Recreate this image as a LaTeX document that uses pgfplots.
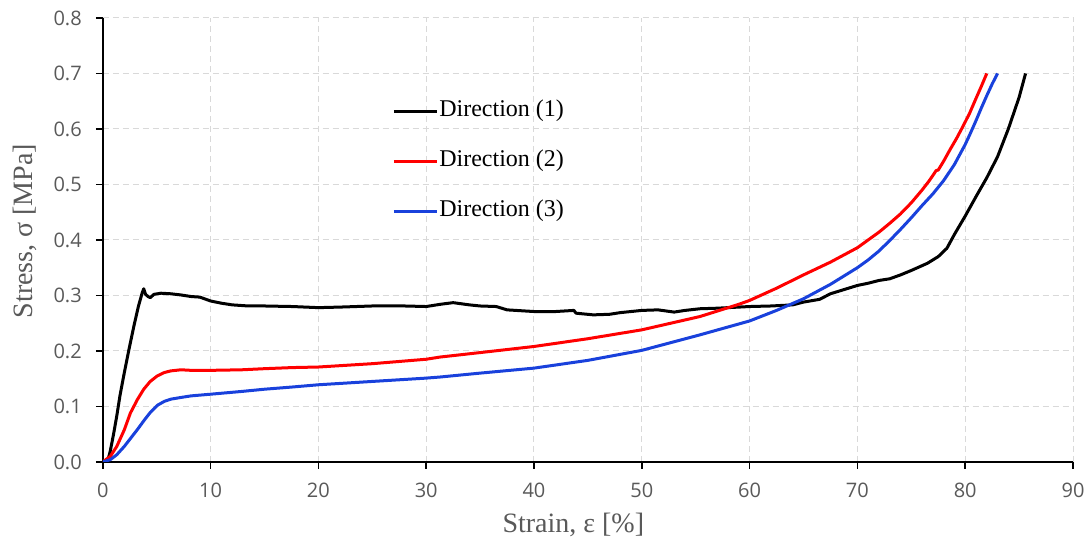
\documentclass[border=0pt]{standalone}
\usepackage{fontspec}
\setmainfont{Liberation Serif}
\newfontfamily\tickfont{Open Sans}
\usepackage{pgfplots}
\usepackage{pgfplotstable}
\pgfplotsset{compat=1.18}
\definecolor{dirblue}{RGB}{25,65,220}
\definecolor{dirred}{RGB}{255,0,0}
\definecolor{tickgray}{RGB}{89,89,89}
\definecolor{gridgray}{RGB}{217,217,217}

\pgfplotstableread{
x y
0 0
0.5 0.005
0.7 0.02
1.0 0.05
1.3 0.083
1.6 0.12
1.94 0.155
2.4 0.2
2.9 0.246
3.3 0.28
3.66 0.305
3.8 0.312
3.97 0.302
4.2 0.298
4.4 0.296
4.75 0.302
5.4 0.304
6.3 0.303
7.2 0.301
8.2 0.298
9 0.297
10 0.29
11 0.286
12 0.283
13.5 0.281
15 0.281
17.6 0.28
20 0.278
22 0.279
25 0.281
28 0.281
30 0.280
31.3 0.284
32.5 0.287
34 0.283
35 0.281
36.5 0.28
37.5 0.274
40 0.271
42 0.271
43.7 0.273
43.9 0.268
45.5 0.265
47 0.266
48 0.269
50 0.273
51.5 0.274
53 0.270
54 0.273
55.4 0.276
57 0.277
60 0.280
62 0.281
64 0.283
65 0.288
66.5 0.293
67.5 0.303
69 0.312
70 0.318
71 0.322
72 0.327
73 0.330
74 0.337
75 0.345
76.5 0.358
77.5 0.37
78.3 0.385
79 0.41
80 0.443
81 0.478
82 0.512
83 0.55
84 0.60
85 0.657
85.6 0.70
}\dirone

\pgfplotstableread{
x y
0 0
0.7 0.01
1.3 0.028
2 0.058
2.56 0.088
3.2 0.112
3.8 0.131
4.4 0.145
5.06 0.155
5.7 0.161
6.3 0.164
7.25 0.166
8.2 0.165
10 0.165
12.9 0.166
15 0.168
17.6 0.17
20 0.171
25 0.177
30 0.185
31.3 0.189
35 0.197
40 0.208
45 0.222
50 0.238
55.4 0.262
59 0.284
60 0.291
62.5 0.313
65 0.337
67.5 0.36
70 0.386
71 0.4
72 0.414
73 0.43
74 0.447
75 0.467
76 0.49
76.6 0.505
77.1 0.519
77.3 0.525
77.5 0.526
78 0.542
78.6 0.563
79.2 0.583
79.8 0.605
80.4 0.628
81 0.655
81.5 0.677
82 0.70
}\dirtwo

\pgfplotstableread{
x y
0 0
0.7 0.004
1.3 0.013
2 0.028
2.56 0.042
3.2 0.058
3.8 0.074
4.4 0.089
5.06 0.102
5.7 0.109
6.3 0.113
7.2 0.116
8.2 0.119
10 0.122
12.9 0.127
15 0.131
17.6 0.135
20 0.139
25 0.145
30 0.151
31.3 0.153
35 0.16
40 0.169
45 0.183
50 0.201
55.4 0.229
60 0.254
62.5 0.273
65 0.294
67.5 0.320
70 0.350
71 0.364
72 0.38
73 0.399
74 0.419
75 0.440
76 0.462
77 0.483
78 0.507
79 0.536
80 0.572
80.5 0.593
81 0.615
81.5 0.638
82 0.660
82.5 0.681
83 0.70
}\dirthree

\begin{document}
\begin{tikzpicture}
\begin{axis}[
  scale only axis, width=485.2pt, height=222pt,
  xmin=0, xmax=90, ymin=0, ymax=0.8,
  xtick={0,10,20,30,40,50,60,70,80,90},
  ytick={0,0.1,0.2,0.3,0.4,0.5,0.6,0.7,0.8},
  axis x line=bottom, axis y line=left,
  axis line style={-, line width=0.85pt, black},
  tick align=outside, major tick length=3.5pt,
  tick style={line width=0.85pt, black},
  grid=major,
  major grid style={gridgray, line width=0.5pt, dash pattern=on 3pt off 2pt},
  /pgf/number format/assume math mode=true,
  ticklabel style={font=\tickfont\fontsize{10}{12}\selectfont, text=tickgray},
  yticklabel style={/pgf/number format/.cd, fixed, fixed zerofill, precision=1, /tikz/xshift=-3.5pt},
  xticklabel style={/pgf/number format/.cd, fixed, precision=0, /tikz/yshift=-3.5pt},
  xlabel={Strain, ε [\%]},
  ylabel={Stress, σ [MPa]},
  xlabel style={font=\fontsize{14}{16}\selectfont, text=tickgray, at={(rel axis cs:0.485,0)}, anchor=center, yshift=-31.5pt},
  ylabel style={font=\fontsize{14}{16}\selectfont, text=tickgray, at={([xshift=-38.9pt]rel axis cs:0,0.52)}, anchor=center, rotate=0},
  legend cell align=left,
  legend image code/.code={\draw[#1] (0pt,0pt) -- (21.5pt,0pt);},
  legend style={draw=none, fill=none, inner sep=0pt, column sep=0pt, row sep=15pt,
    at={(rel axis cs:0.298,0.813)}, anchor=north west,
    font=\fontsize{12}{14}\selectfont,
    nodes={inner xsep=0.5pt, inner ysep=0pt, text height=0.75em, text depth=0.25em}},
  line join=round,
]
\addplot[black, line width=1.5pt] table {\dirone};
\addlegendentry{Direction (1)}
\addplot[dirred, line width=1.5pt] table {\dirtwo};
\addlegendentry{Direction (2)}
\addplot[dirblue, line width=1.5pt] table {\dirthree};
\addlegendentry{Direction (3)}
\coordinate (O) at (rel axis cs:0,0);
\coordinate (T) at (rel axis cs:1,1);
\end{axis}
\pgfresetboundingbox
\path[use as bounding box] ([xshift=-51.4pt,yshift=-43pt]O) rectangle ([xshift=7pt,yshift=9pt]T);
\end{tikzpicture}
\end{document}
